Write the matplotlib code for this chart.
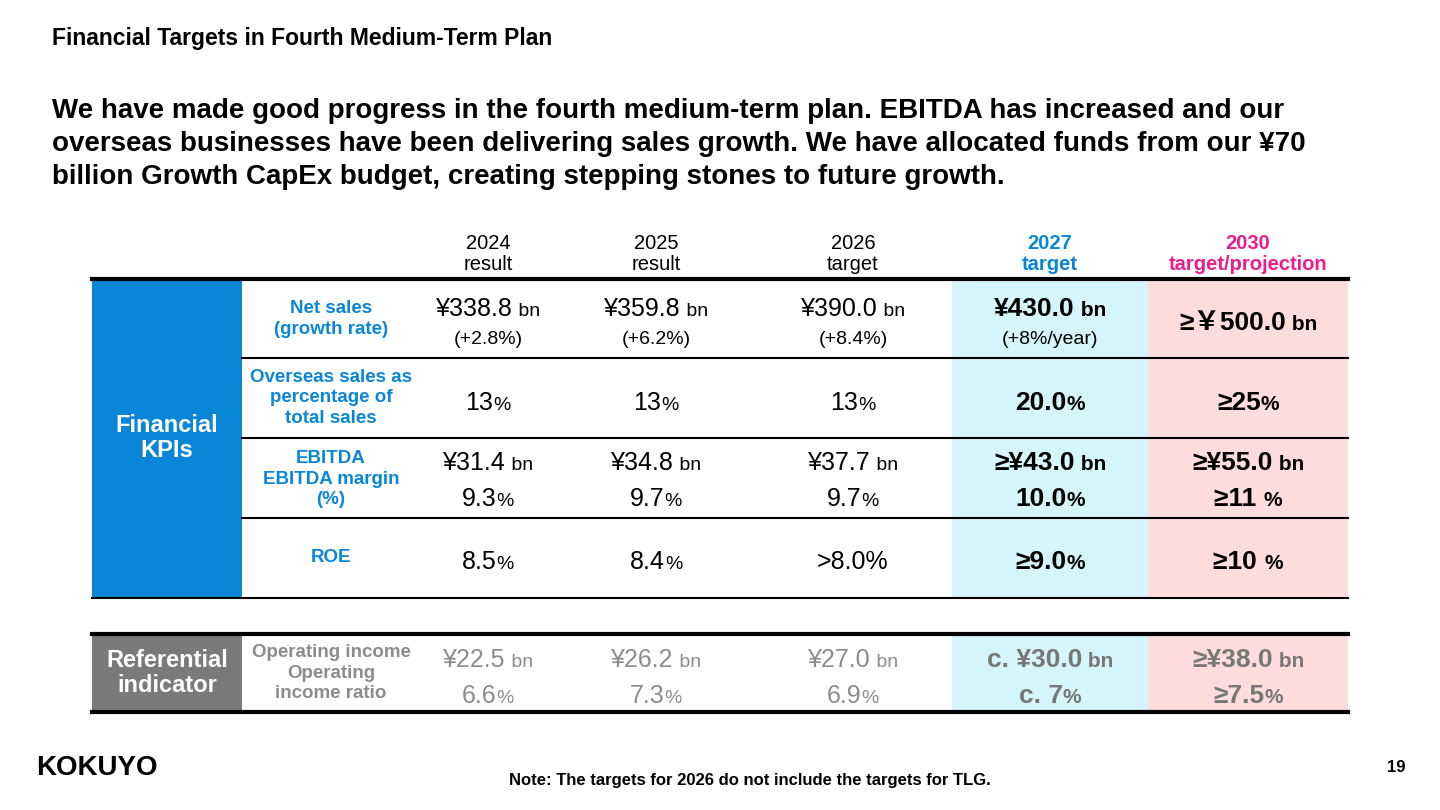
import matplotlib.pyplot as plt
from matplotlib.patches import Rectangle

plt.rcParams['font.family'] = ['Liberation Sans', 'DejaVu Sans', 'Noto Sans CJK JP']

years = ["2024", "2025", "2026", "2027", "2030"]
statuses = ["result", "result", "target", "target", "target/projection"]
net_sales = ["¥338.8", "¥359.8", "¥390.0", "¥430.0", "≥￥500.0"]
growth = ["(+2.8%)", "(+6.2%)", "(+8.4%)", "(+8%/year)", ""]
overseas = ["13", "13", "13", "20.0", "≥25"]
ebitda = ["¥31.4", "¥34.8", "¥37.7", "≥¥43.0", "≥¥55.0"]
ebitda_margin = ["9.3", "9.7", "9.7", "10.0", "≥11 "]
roe = ["8.5", "8.4", ">8.0%", "≥9.0", "≥10 "]
op_income = ["¥22.5", "¥26.2", "¥27.0", "c. ¥30.0", "≥¥38.0"]
op_ratio = ["6.6", "7.3", "6.9", "c. 7", "≥7.5"]
row_labels = ["Net sales\n(growth rate)", "Overseas sales as\npercentage of\ntotal sales",
              "EBITDA\nEBITDA margin\n(%)", "ROE"]

BLUE = "#0a86d9"
PINK = "#ec1c8c"
GRAY = "#8c8c8c"
cols = [488, 656, 853, 1050, 1248]

fig = plt.figure(figsize=(14.4, 8.1), dpi=100)
ax = fig.add_axes([0, 0, 1, 1])
ax.set_xlim(0, 1440)
ax.set_ylim(810, 0)
ax.axis("off")
r = fig.canvas.get_renderer()


def mixed(x, y, parts):
    # parts: (text, size, bold, color); centred as a whole on x
    arts = []
    total = 0
    for t, s, b, c in parts:
        a = ax.text(0, y, t, fontsize=s, fontweight="bold" if b else "normal",
                    color=c, ha="left", va="baseline")
        w = a.get_window_extent(renderer=r).width
        arts.append((a, w))
        total += w
    cur = x - total / 2
    for a, w in arts:
        a.set_x(cur)
        cur += w


ax.text(52, 38, "Financial Targets in Fourth Medium-Term Plan", fontsize=16.5,
        fontweight="bold", va="center")
ax.text(52, 144, "We have made good progress in the fourth medium-term plan. EBITDA has increased and our\n"
        "overseas businesses have been delivering sales growth. We have allocated funds from our ¥70\n"
        "billion Growth CapEx budget, creating stepping stones to future growth.",
        fontsize=20, fontweight="bold", va="center", linespacing=1.33)

# backgrounds
ax.add_patch(Rectangle((92, 281), 150, 317, color=BLUE, lw=0))
ax.add_patch(Rectangle((952, 281), 196, 317, color="#d5f4fb", lw=0))
ax.add_patch(Rectangle((1148, 281), 200, 317, color="#fddcdc", lw=0))
ax.add_patch(Rectangle((92, 634), 150, 78, color="#7a7a7a", lw=0))
ax.add_patch(Rectangle((952, 634), 196, 78, color="#d5f4fb", lw=0))
ax.add_patch(Rectangle((1148, 634), 200, 78, color="#fddcdc", lw=0))

ax.plot([92, 1348], [279, 279], color="black", lw=3)
for y in [358, 438, 518]:
    ax.plot([242, 1348], [y, y], color="black", lw=1.5)
ax.plot([92, 1348], [598, 598], color="black", lw=1.5)
ax.plot([92, 1348], [634, 634], color="black", lw=3)
ax.plot([92, 1348], [712, 712], color="black", lw=3)

# headers
for i, (yr, st) in enumerate(zip(years, statuses)):
    c = "black" if i < 3 else (BLUE if i == 3 else PINK)
    b = "bold" if i >= 3 else "normal"
    ax.text(cols[i], 254, yr + "\n" + st, ha="center", va="center", fontsize=14.5,
            color=c, fontweight=b, linespacing=1.15)

ax.text(167, 438, "Financial\nKPIs", ha="center", va="center", fontsize=17,
        color="white", fontweight="bold", linespacing=1.15)
ax.text(167, 673, "Referential\nindicator", ha="center", va="center", fontsize=17,
        color="white", fontweight="bold", linespacing=1.15)

for lab, yc in zip(row_labels, [319, 398, 479, 558]):
    ax.text(331, yc, lab, ha="center", va="center", fontsize=13.5, color=BLUE,
            fontweight="bold", linespacing=1.3)
ax.text(331, 673, "Operating income\nOperating\nincome ratio", ha="center", va="center",
        fontsize=13.5, color=GRAY, fontweight="bold", linespacing=1.3)

for i in range(5):
    x = cols[i]
    bold = i >= 3
    big = 19 if bold else 18
    sm = 15 if bold else 14
    yns = 330 if i == 4 else 316
    mixed(x, yns, [(net_sales[i], big, bold, "black"), (" bn", sm, bold, "black")])
    if growth[i]:
        ax.text(x, 340, growth[i], ha="center", va="center", fontsize=14)
    mixed(x, 410, [(overseas[i], big, bold, "black"), ("%", sm, bold, "black")])
    mixed(x, 470, [(ebitda[i], big, bold, "black"), (" bn", sm, bold, "black")])
    mixed(x, 506, [(ebitda_margin[i], big, bold, "black"), ("%", sm, bold, "black")])
    mixed(x, 569, [(roe[i], big, bold, "black")] + ([] if i == 2 else [("%", sm, bold, "black")]))
    gc = "#777777" if bold else GRAY
    mixed(x, 667, [(op_income[i], big, bold, gc), (" bn", sm, bold, gc)])
    mixed(x, 703, [(op_ratio[i], big, bold, gc), ("%", sm, bold, gc)])

ax.text(36, 768, "KOKUYO", fontsize=20, fontweight="bold", va="center")
ax.text(750, 781, "Note: The targets for 2026 do not include the targets for TLG.",
        fontsize=12, fontweight="bold", ha="center", va="center")
ax.text(1406, 768, "19", fontsize=12, fontweight="bold", ha="right", va="center")

fig.savefig("out.png", dpi=100)
